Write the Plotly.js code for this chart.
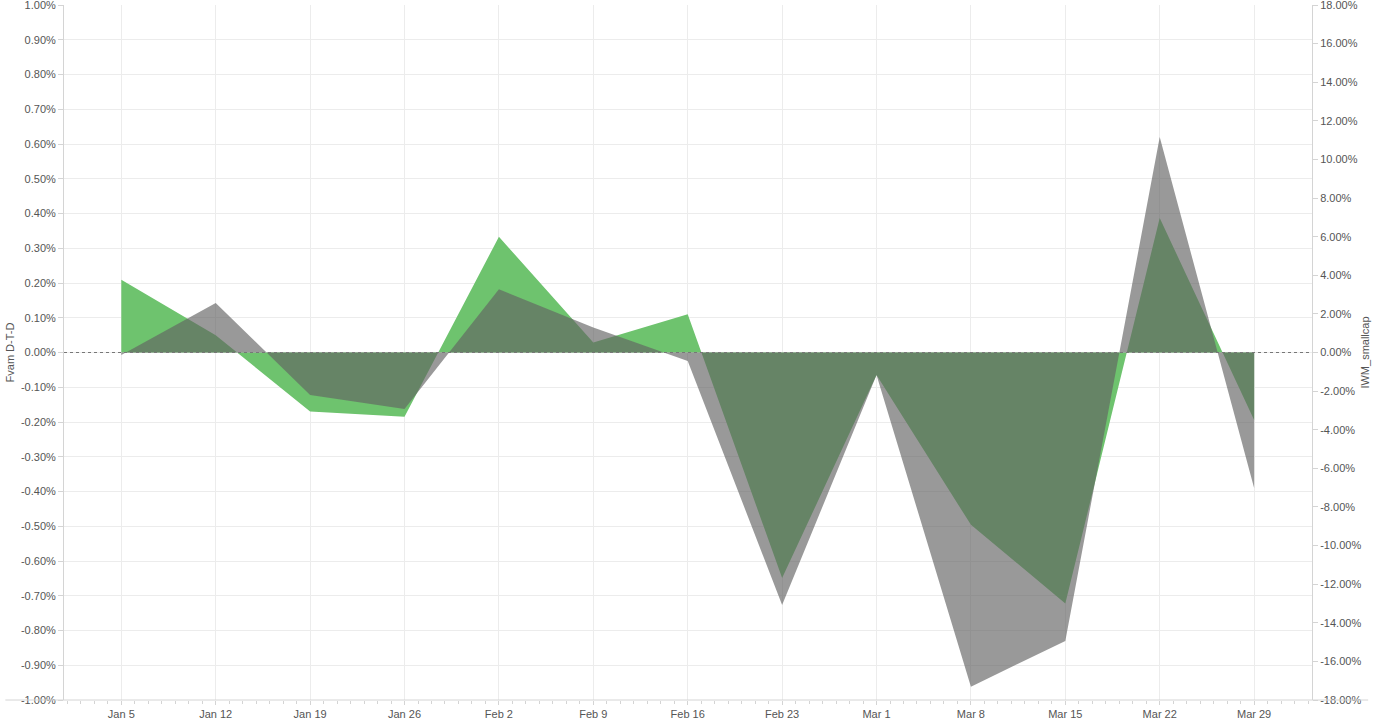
<!DOCTYPE html>
<html>
<head>
<meta charset="utf-8">
<script src="https://cdn.plot.ly/plotly-3.0.1.min.js"></script>
<style>
html,body{margin:0;padding:0;background:#fff;}
#chart{width:1377px;height:721px;}
</style>
</head>
<body>
<div id="chart"></div>
<script>
var weeks = ["2020-01-05","2020-01-12","2020-01-19","2020-01-26","2020-02-02","2020-02-09","2020-02-16","2020-02-23","2020-03-01","2020-03-08","2020-03-15","2020-03-22","2020-03-29"];
var weekLabels = ["Jan 5","Jan 12","Jan 19","Jan 26","Feb 2","Feb 9","Feb 16","Feb 23","Mar 1","Mar 8","Mar 15","Mar 22","Mar 29"];
var fvamDTD = [0.209, 0.050, -0.170, -0.185, 0.333, 0.029, 0.110, -0.649, -0.065, -0.496, -0.722, 0.387, -0.194];
var iwmSmallcap = [-0.13, 2.56, -2.20, -2.93, 3.27, 1.30, -0.44, -13.08, -1.17, -17.31, -14.94, 11.16, -7.02];
var leftTicks = [-1.0,-0.9,-0.8,-0.7,-0.6,-0.5,-0.4,-0.3,-0.2,-0.1,0,0.1,0.2,0.3,0.4,0.5,0.6,0.7,0.8,0.9,1.0];
var rightTicks = [-18,-16,-14,-12,-10,-8,-6,-4,-2,0,2,4,6,8,10,12,14,16,18];

var font = "Liberation Sans, Arial, sans-serif";
var traces = [
  {
    x: weeks, y: fvamDTD, name: "Fvam D-T-D", type: "scatter", mode: "lines",
    fill: "tozeroy", fillcolor: "rgb(110,195,110)", line: {width: 0, color: "rgb(110,195,110)"},
    hoverinfo: "x+y"
  },
  {
    x: weeks, y: iwmSmallcap, name: "IWM_smallcap", type: "scatter", mode: "lines", yaxis: "y2",
    fill: "tozeroy", fillcolor: "rgba(98,98,98,0.65)", line: {width: 0, color: "rgba(98,98,98,0.65)"},
    hoverinfo: "x+y"
  }
];

var layout = {
  width: 1377, height: 721,
  margin: {l: 64, r: 65, t: 5, b: 21, pad: 0},
  paper_bgcolor: "#ffffff", plot_bgcolor: "#ffffff",
  showlegend: false,
  font: {family: font, size: 11, color: "#555"},
  xaxis: {
    type: "date",
    range: ["2019-12-31 18:00", "2020-04-02 07:00"],
    tickvals: weeks, ticktext: weekLabels,
    showgrid: true, gridcolor: "#ececec", gridwidth: 1,
    showline: false, zeroline: false,
    ticks: "outside", ticklen: 4, tickcolor: "#d4d4d4",
    minor: {dtick: 86400000, ticks: "outside", ticklen: 3, tickcolor: "#d4d4d4", showgrid: false},
    tickfont: {family: font, size: 11, color: "#555"}
  },
  yaxis: {
    range: [-1.0, 1.0],
    tickvals: leftTicks,
    ticktext: leftTicks.map(function(v){return v.toFixed(2)+"%";}),
    ticklabeloverflow: "allow",
    showgrid: true, gridcolor: "#ececec", gridwidth: 1,
    zeroline: false,
    showline: true, linecolor: "#d4d4d4", linewidth: 1,
    ticks: "outside", ticklen: 5, tickcolor: "#d4d4d4",
    tickfont: {family: font, size: 11, color: "#555"},
    title: {text: "Fvam D-T-D", font: {family: font, size: 11, color: "#555"}, standoff: 4}
  },
  yaxis2: {
    overlaying: "y", side: "right",
    range: [-18, 18],
    tickvals: rightTicks,
    ticktext: rightTicks.map(function(v){return v.toFixed(2)+"%";}),
    ticklabeloverflow: "allow",
    showgrid: false, zeroline: false,
    showline: true, linecolor: "#d4d4d4", linewidth: 1,
    ticks: "outside", ticklen: 5, tickcolor: "#d4d4d4",
    tickfont: {family: font, size: 11, color: "#555"},
    title: {text: "IWM_smallcap", font: {family: font, size: 11, color: "#555"}, standoff: 0}
  },
  shapes: [
    {type: "line", xref: "paper", yref: "y", x0: 0, x1: 1, y0: 0, y1: 0,
     line: {color: "#777", width: 1, dash: "dot"}, layer: "above"},
    {type: "line", xref: "paper", yref: "paper", x0: -0.047, x1: 1.045, y0: 0, y1: 0,
     line: {color: "#d4d4d4", width: 1}, layer: "above"}
  ]
};

Plotly.newPlot("chart", traces, layout, {displayModeBar: false, staticPlot: true});
</script>
</body>
</html>
